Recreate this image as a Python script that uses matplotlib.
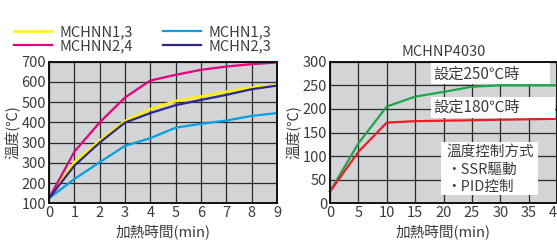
import matplotlib
matplotlib.use("Agg")
import matplotlib.pyplot as plt
from matplotlib.patches import Rectangle

plt.rcParams['font.family'] = ['Noto Sans CJK TC', 'DejaVu Sans']

# ---- left chart data ----
left_x = [0, 1, 2, 3, 4, 5, 6, 7, 8, 9]
mchnn13 = [25, 203, 310, 407, 466, 506, 528, 552, 572, 585]
mchnn24 = [25, 255, 400, 523, 607, 635, 660, 676, 688, 696]
mchn13 = [25, 120, 203, 284, 322, 374, 393, 409, 432, 446]
mchn23 = [25, 186, 300, 399, 446, 485, 511, 536, 564, 582]
left_yticks = [0, 100, 200, 300, 400, 500, 600, 700]
left_ylabels = ['100', '200', '300', '300', '400', '500', '600', '700']

# ---- right chart data ----
right_x = [0, 5, 10, 15, 20, 25, 30, 35, 40]
set250 = [25, 127, 205, 226, 236, 247, 250, 250, 250]
set180 = [25, 109, 171, 174, 175, 176, 177, 178, 179]
right_yticks = [0, 50, 100, 150, 200, 250, 300]
right_xticks = [0, 5, 10, 15, 20, 25, 30, 35, 40]

TXT = '#3c3c3c'
BG = '#d3d4d6'
GRID = '#2a2a2a'

fig = plt.figure(figsize=(5.57, 2.46), dpi=100)

def style(ax):
    ax.set_facecolor(BG)
    ax.grid(True, color=GRID, linewidth=0.9)
    ax.set_axisbelow(True)
    for s in ax.spines.values():
        s.set_linewidth(1.4)
        s.set_color('#111111')
    ax.tick_params(length=0, labelsize=10.5, labelcolor=TXT, pad=2)

# left
ax1 = fig.add_axes([49/557, 1-203.3/246, (277-49)/557, (203.3-61.7)/246])
style(ax1)
l1, = ax1.plot(left_x, mchnn13, color='#fff200', lw=1.8)
l2, = ax1.plot(left_x, mchnn24, color='#e5007f', lw=1.6)
l3, = ax1.plot(left_x, mchn13, color='#00a0e9', lw=1.6)
l4, = ax1.plot(left_x, mchn23, color='#2b2a8c', lw=1.6)
ax1.set_xlim(0, 9)
ax1.set_ylim(0, 700)
ax1.set_xticks(left_x)
ax1.set_yticks(left_yticks)
ax1.set_yticklabels(left_ylabels)
ax1.set_xlabel('加熱時間(min)', fontsize=10.5, color=TXT, labelpad=3)
ax1.set_ylabel('溫度(℃)', fontsize=10.5, color=TXT, labelpad=1)
fig.legend([l1, l2, l3, l4], ['MCHNN1,3', 'MCHNN2,4', 'MCHN1,3', 'MCHN2,3'],
           ncol=2, loc='upper left', bbox_to_anchor=(14/557, 1-25/246),
           frameon=False, fontsize=10.5, labelcolor=TXT, handlelength=2.6,
           handletextpad=0.5, columnspacing=2.1, labelspacing=0.0,
           borderpad=0, borderaxespad=0)

# right
ax2 = fig.add_axes([330/557, 1-203.3/246, (557-330)/557, (203.3-61.7)/246])
style(ax2)
ax2.plot(right_x, set250, color='#1aa64b', lw=1.6, clip_on=False)
ax2.plot(right_x, set180, color='#ee1c25', lw=1.6, clip_on=False)
ax2.set_xlim(0, 40)
ax2.set_ylim(0, 300)
ax2.set_xticks(right_xticks)
ax2.set_yticks(right_yticks)
ax2.set_xlabel('加熱時間(min)', fontsize=10.5, color=TXT, labelpad=3)
ax2.set_ylabel('溫度(℃)', fontsize=10.5, color=TXT, labelpad=1)
ax2.set_title('MCHNP4030', fontsize=10.5, color=TXT, pad=4)

for (x0, y0, w, h) in [(0.4455, 0.842, 0.525, 0.148),
                       (0.4455, 0.602, 0.545, 0.149),
                       (0.49, 0.059, 0.427, 0.374)]:
    ax2.add_patch(Rectangle((x0, y0), w, h, transform=ax2.transAxes,
                            facecolor='white', edgecolor='none', zorder=3))
FS = 11
ax2.text(0.455, 0.915, '設定250℃時', transform=ax2.transAxes, fontsize=FS,
         color=TXT, va='center', ha='left', zorder=4)
ax2.text(0.455, 0.676, '設定180℃時', transform=ax2.transAxes, fontsize=FS,
         color=TXT, va='center', ha='left', zorder=4)
ax2.text(0.512, 0.364, '溫度控制方式', transform=ax2.transAxes, fontsize=10.5,
         color=TXT, va='center', ha='left', zorder=4)
ax2.text(0.512, 0.235, '・SSR驅動', transform=ax2.transAxes, fontsize=10.5,
         color=TXT, va='center', ha='left', zorder=4)
ax2.text(0.512, 0.115, '・PID控制', transform=ax2.transAxes, fontsize=10.5,
         color=TXT, va='center', ha='left', zorder=4)

fig.savefig('out.png', dpi=100)
